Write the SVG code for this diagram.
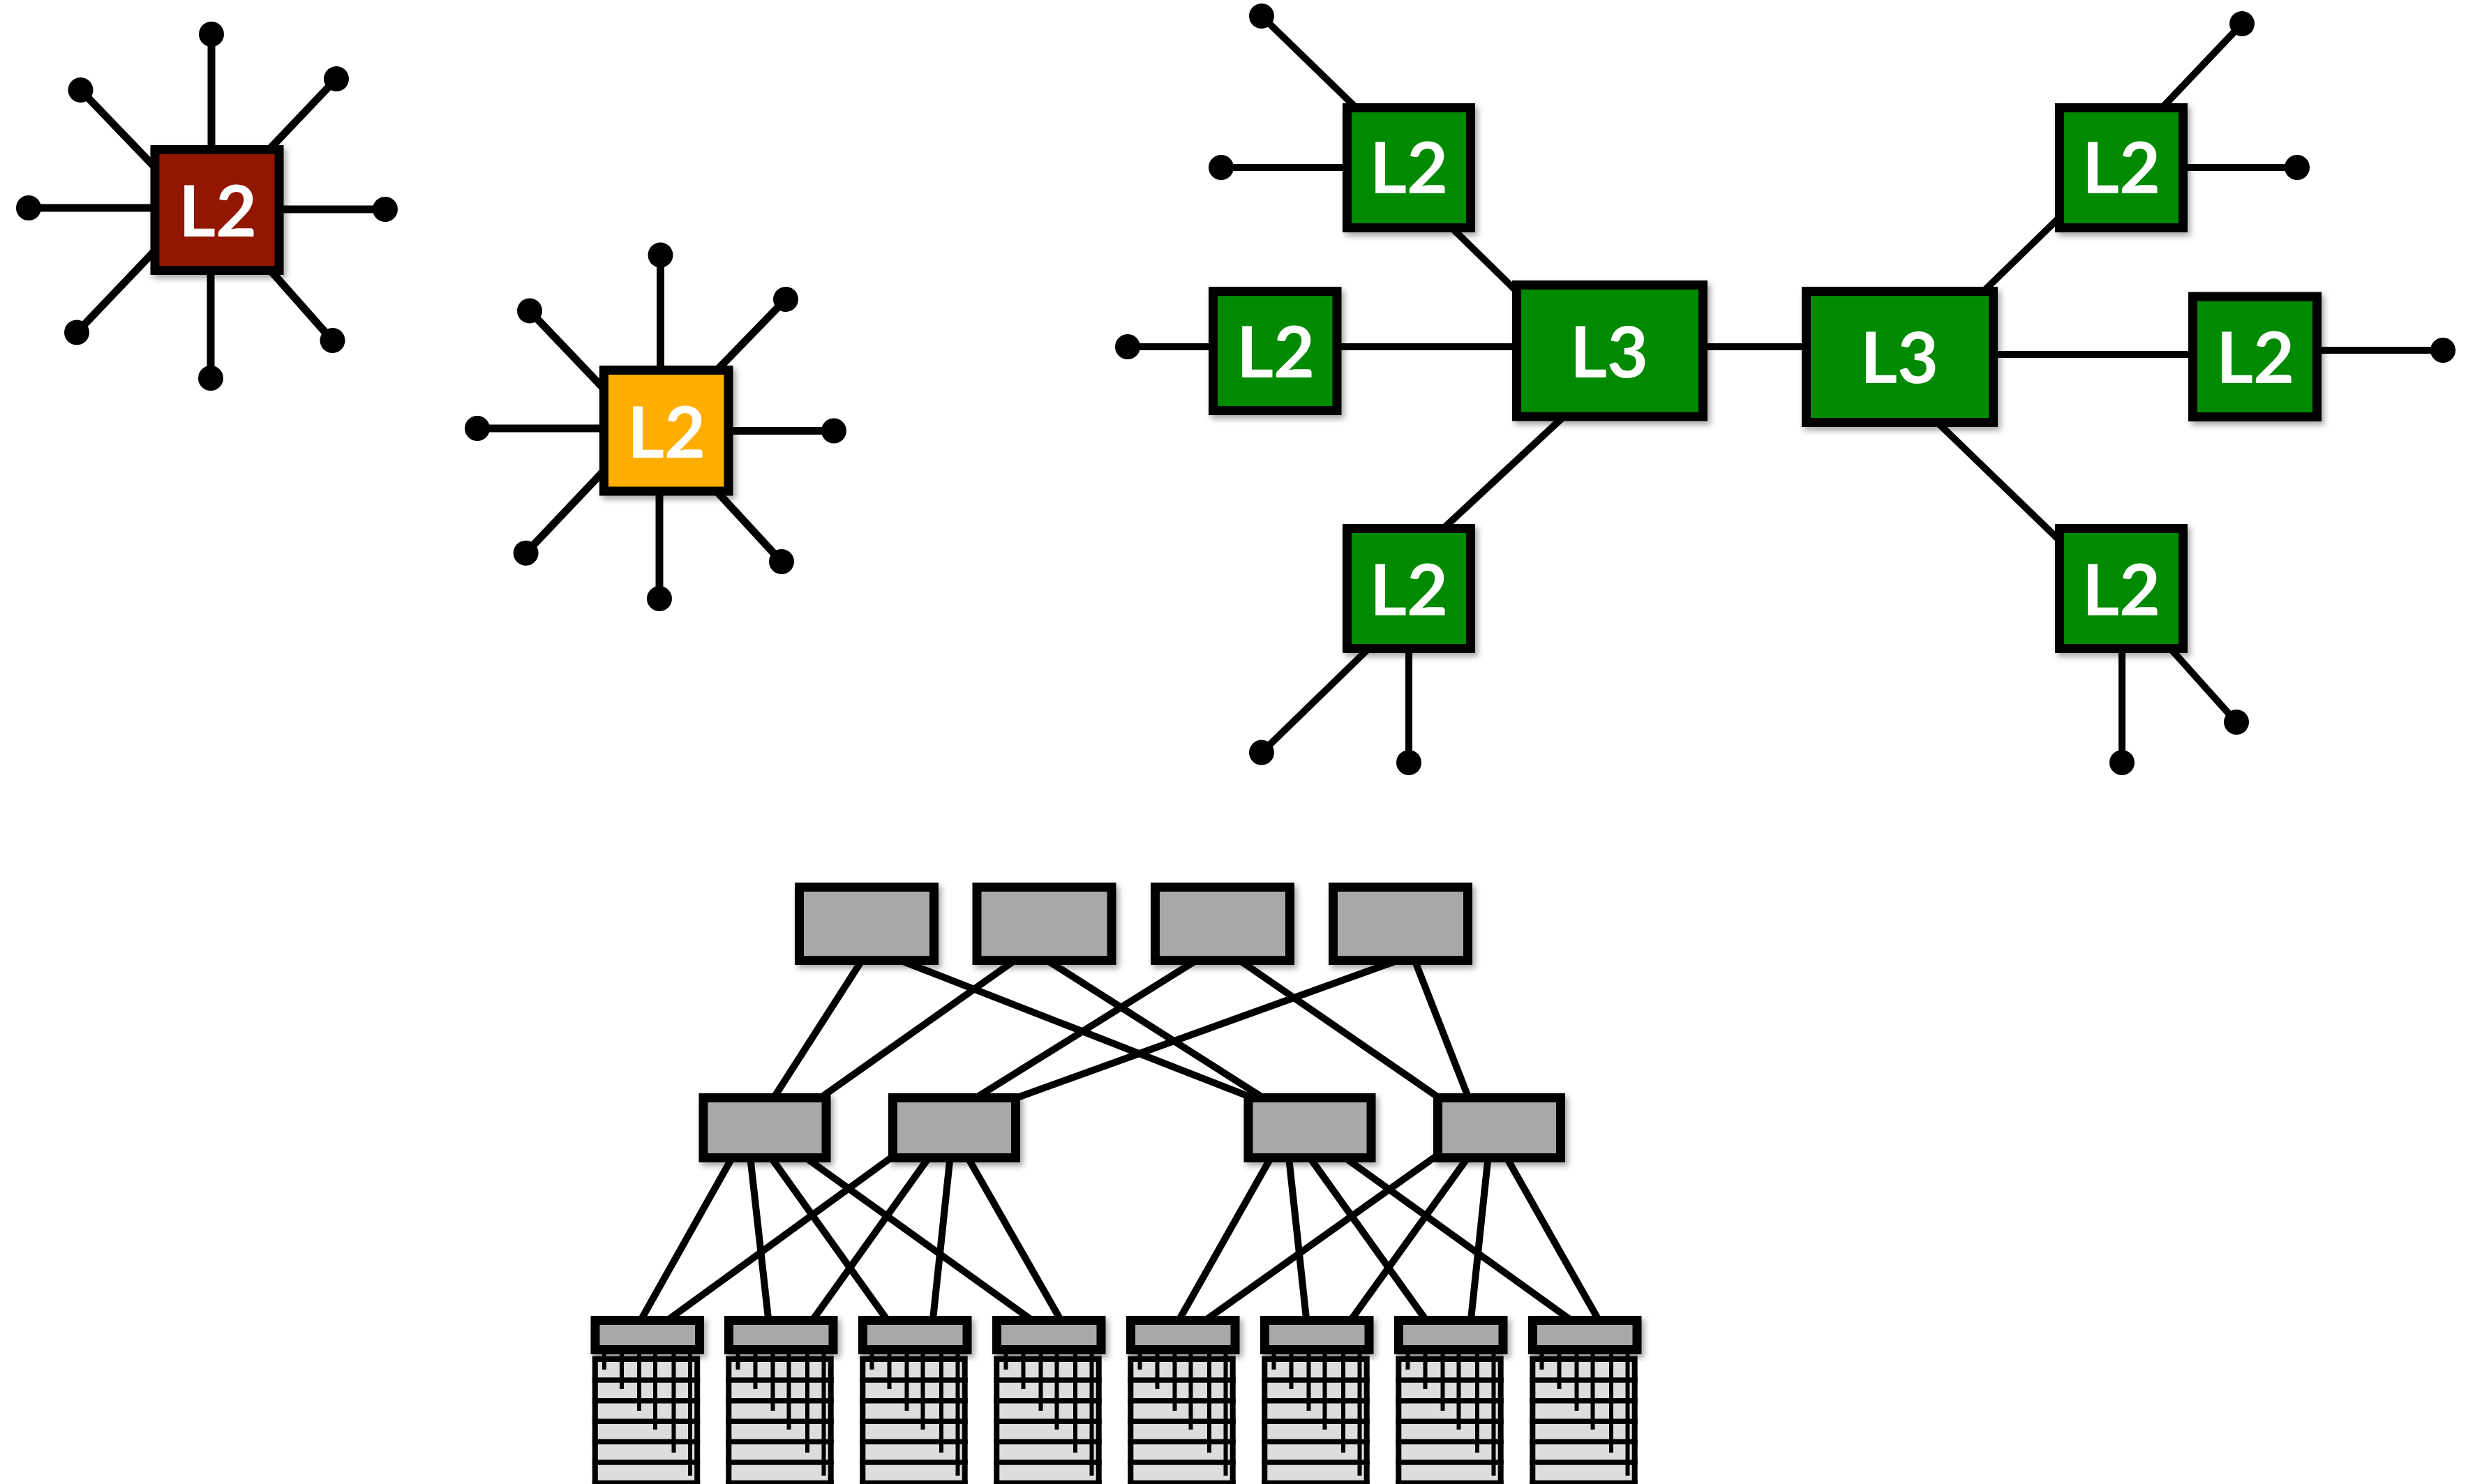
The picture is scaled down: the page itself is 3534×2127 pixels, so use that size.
<svg xmlns="http://www.w3.org/2000/svg" xmlns:xlink="http://www.w3.org/1999/xlink" width="3534" height="2127" viewBox="0 0 3534 2127">
<style>
.lnk{stroke:#000;stroke-width:11;fill:none}
.lg{stroke:#000;stroke-width:10;fill:none}
.ft{stroke:#000;stroke-width:10;fill:none}
.box{stroke:#000;stroke-width:13;filter:url(#sh)}
.red{fill:#921200}
.org{fill:#ffae00}
.grn{fill:#058a03}
.gry{fill:#a6a9a8}
.lbl{font-family:Lato,"Open Sans","DejaVu Sans",sans-serif;font-weight:700;font-size:102px;fill:#fff;text-anchor:middle}
.cab{stroke:#000;stroke-width:6}
</style>
<defs>
<filter id="sh" x="-20%" y="-20%" width="150%" height="160%">
<feDropShadow dx="4" dy="5" stdDeviation="4" flood-color="#000" flood-opacity="0.35"/>
</filter>
<marker id="dot" markerUnits="userSpaceOnUse" viewBox="-20 -20 40 40" markerWidth="40" markerHeight="40" refX="0" refY="0" orient="auto">
<circle r="18" fill="#000"/>
</marker>
<g id="torrack">
<rect x="2.3" y="1940" width="154.4" height="6" fill="#c9cacc"/>
<rect x="6.3" y="1948" width="146.4" height="200" fill="#dcdddf" stroke="#000" stroke-width="8"/>
<rect x="2.3" y="1974.3" width="154.4" height="7.5" fill="#000"/>
<rect x="2.3" y="2004" width="154.4" height="7.5" fill="#000"/>
<rect x="2.3" y="2033.5" width="154.4" height="7.5" fill="#000"/>
<rect x="2.3" y="2062.7" width="154.4" height="7.5" fill="#000"/>
<rect x="2.3" y="2092.2" width="154.4" height="7.5" fill="#000"/>
<rect x="2.3" y="2121.7" width="154.4" height="7.5" fill="#000"/>
<line class="cab" x1="19.5" y1="1940" x2="19.5" y2="1963"/>
<line class="cab" x1="44.5" y1="1940" x2="44.5" y2="1991"/>
<line class="cab" x1="69.5" y1="1940" x2="69.5" y2="2022"/>
<line class="cab" x1="92.5" y1="1940" x2="92.5" y2="2049"/>
<line class="cab" x1="119" y1="1940" x2="119" y2="2082"/>
<line class="cab" x1="142.5" y1="1940" x2="142.5" y2="2115"/>
<rect class="box gry" x="6.5" y="1892.5" width="149.5" height="42"/>
</g>
</defs>
<rect width="3534" height="2127" fill="#fff"/>

<g id="connectors">
<!-- red star spokes -->
<line class="lnk" marker-start="url(#dot)" x1="303" y1="49" x2="303" y2="230"/>
<line class="lnk" marker-start="url(#dot)" x1="115.5" y1="129" x2="225" y2="243"/>
<line class="lnk" marker-start="url(#dot)" x1="482" y1="113" x2="385" y2="215"/>
<line class="lnk" marker-start="url(#dot)" x1="41" y1="298" x2="230" y2="298"/>
<line class="lnk" marker-start="url(#dot)" x1="552" y1="300" x2="392" y2="300"/>
<line class="lnk" marker-start="url(#dot)" x1="110" y1="476.5" x2="225" y2="356"/>
<line class="lnk" marker-start="url(#dot)" x1="302" y1="542" x2="302" y2="380"/>
<line class="lnk" marker-start="url(#dot)" x1="476.5" y1="488" x2="388" y2="388"/>
<!-- orange star spokes -->
<line class="lnk" marker-start="url(#dot)" x1="946.5" y1="365.6" x2="946.5" y2="545"/>
<line class="lnk" marker-start="url(#dot)" x1="759" y1="445.5" x2="868" y2="560"/>
<line class="lnk" marker-start="url(#dot)" x1="1126" y1="429" x2="1026" y2="532"/>
<line class="lnk" marker-start="url(#dot)" x1="684" y1="614" x2="875" y2="614"/>
<line class="lnk" marker-start="url(#dot)" x1="1195" y1="617.5" x2="1035" y2="617.5"/>
<line class="lnk" marker-start="url(#dot)" x1="753.6" y1="792.7" x2="868" y2="672"/>
<line class="lnk" marker-start="url(#dot)" x1="945" y1="858" x2="945" y2="695"/>
<line class="lnk" marker-start="url(#dot)" x1="1120" y1="805" x2="1026" y2="703"/>
<!-- green network -->
<line class="lg" marker-start="url(#dot)" x1="1808" y1="23" x2="1945" y2="156"/>
<line class="lg" marker-start="url(#dot)" x1="1750" y1="240" x2="1935" y2="240"/>
<line class="lg" x1="2080" y1="326" x2="2175" y2="419"/>
<line class="lg" marker-start="url(#dot)" x1="1616" y1="497" x2="1745" y2="497"/>
<line class="lg" x1="1910" y1="497" x2="2180" y2="497"/>
<line class="lg" x1="2241" y1="597" x2="2069" y2="757"/>
<line class="lg" marker-start="url(#dot)" x1="1808" y1="1078.6" x2="1962" y2="929"/>
<line class="lg" marker-start="url(#dot)" x1="2019" y1="1093" x2="2019" y2="925"/>
<line class="lg" x1="2435" y1="497" x2="2595" y2="497"/>
<line class="lg" x1="2842" y1="418" x2="2952" y2="311"/>
<line class="lg" marker-start="url(#dot)" x1="3213" y1="34" x2="3098" y2="155"/>
<line class="lg" marker-start="url(#dot)" x1="3292" y1="240" x2="3125" y2="240"/>
<line class="lg" x1="2850" y1="508" x2="3150" y2="508"/>
<line class="lg" marker-start="url(#dot)" x1="3501" y1="502" x2="3315" y2="502"/>
<line class="lg" x1="2776" y1="605" x2="2952" y2="775"/>
<line class="lg" marker-start="url(#dot)" x1="3041" y1="1093" x2="3041" y2="925"/>
<line class="lg" marker-start="url(#dot)" x1="3205" y1="1035" x2="3110" y2="929"/>
<!-- fat tree: core to aggregation -->
<line class="ft" x1="1236.1" y1="1375" x2="1107.9" y2="1575"/>
<line class="ft" x1="1286.5" y1="1375" x2="1801.4" y2="1576"/>
<line class="ft" x1="1456.3" y1="1375" x2="1173.7" y2="1575"/>
<line class="ft" x1="1498.4" y1="1375" x2="1812.6" y2="1575"/>
<line class="ft" x1="1716.8" y1="1375" x2="1396.2" y2="1575"/>
<line class="ft" x1="1774.4" y1="1375" x2="2066" y2="1576"/>
<line class="ft" x1="2007.2" y1="1375" x2="1447.1" y2="1577"/>
<line class="ft" x1="2026.9" y1="1375" x2="2105.1" y2="1575"/>
<!-- fat tree: aggregation to ToR -->
<line class="ft" x1="1051.6" y1="1655" x2="917.3" y2="1894"/>
<line class="ft" x1="1074.8" y1="1655" x2="1101.5" y2="1894"/>
<line class="ft" x1="1102.1" y1="1655" x2="1273" y2="1894"/>
<line class="ft" x1="1148.7" y1="1655" x2="1481.4" y2="1894"/>
<line class="ft" x1="1287" y1="1652" x2="954.3" y2="1894"/>
<line class="ft" x1="1333.9" y1="1655" x2="1163.1" y2="1894"/>
<line class="ft" x1="1362" y1="1655" x2="1336.7" y2="1894"/>
<line class="ft" x1="1384.7" y1="1655" x2="1521.2" y2="1894"/>
<line class="ft" x1="1823.6" y1="1655" x2="1688.5" y2="1894"/>
<line class="ft" x1="1846.6" y1="1655" x2="1872.5" y2="1894"/>
<line class="ft" x1="1874.1" y1="1655" x2="2045" y2="1894"/>
<line class="ft" x1="1921.5" y1="1655" x2="2253.9" y2="1894"/>
<line class="ft" x1="2065.2" y1="1652" x2="1725" y2="1894"/>
<line class="ft" x1="2106.4" y1="1655" x2="1934.5" y2="1894"/>
<line class="ft" x1="2133" y1="1655" x2="2107.7" y2="1894"/>
<line class="ft" x1="2156.8" y1="1655" x2="2292.1" y2="1894"/>
</g>

<g id="red-l2"><rect class="box red" x="222" y="214.5" width="178" height="173"/><text class="lbl" x="312" y="338.5">L2</text></g>
<g id="orange-l2"><rect class="box org" x="865.5" y="530.5" width="178.5" height="173.5"/><text class="lbl" x="955" y="656">L2</text></g>

<g id="g-l2-tl"><rect class="box grn" x="1930.5" y="154.5" width="177" height="172"/><text class="lbl" x="2019" y="277">L2</text></g>
<g id="g-l2-ml"><rect class="box grn" x="1738.5" y="417.5" width="177.5" height="171"/><text class="lbl" x="1828" y="540.5">L2</text></g>
<g id="g-l2-bl"><rect class="box grn" x="1930.5" y="757.5" width="177" height="172"/><text class="lbl" x="2019" y="882">L2</text></g>
<g id="g-l3-l"><rect class="box grn" x="2173.5" y="408.5" width="267" height="188.5"/><text class="lbl" x="2306" y="541">L3</text></g>
<g id="g-l3-r"><rect class="box grn" x="2588.5" y="417.5" width="268" height="188"/><text class="lbl" x="2722" y="549">L3</text></g>
<g id="g-l2-tr"><rect class="box grn" x="2951.5" y="154.5" width="177" height="172"/><text class="lbl" x="3040" y="277">L2</text></g>
<g id="g-l2-mr"><rect class="box grn" x="3142.5" y="425" width="178" height="172.5"/><text class="lbl" x="3232" y="549">L2</text></g>
<g id="g-l2-br"><rect class="box grn" x="2951.5" y="757.5" width="177" height="172"/><text class="lbl" x="3040" y="882">L2</text></g>

<g id="core1"><rect class="box gry" x="1145.5" y="1271.5" width="193" height="105"/></g>
<g id="core2"><rect class="box gry" x="1400" y="1271.5" width="193" height="105"/></g>
<g id="core3"><rect class="box gry" x="1655.5" y="1271.5" width="193" height="105"/></g>
<g id="core4"><rect class="box gry" x="1910.5" y="1271.5" width="193" height="105"/></g>

<g id="agg1"><rect class="box gry" x="1008" y="1573.5" width="176" height="86"/></g>
<g id="agg2"><rect class="box gry" x="1279.5" y="1573.5" width="176" height="86"/></g>
<g id="agg3"><rect class="box gry" x="1789" y="1573.5" width="176" height="86"/></g>
<g id="agg4"><rect class="box gry" x="2060.5" y="1573.5" width="176" height="86"/></g>

<g id="tor1"><use xlink:href="#torrack" x="846.5"/></g>
<g id="tor2"><use xlink:href="#torrack" x="1038"/></g>
<g id="tor3"><use xlink:href="#torrack" x="1230"/></g>
<g id="tor4"><use xlink:href="#torrack" x="1422"/></g>
<g id="tor5"><use xlink:href="#torrack" x="1614"/></g>
<g id="tor6"><use xlink:href="#torrack" x="1806"/></g>
<g id="tor7"><use xlink:href="#torrack" x="1998"/></g>
<g id="tor8"><use xlink:href="#torrack" x="2190"/></g>
</svg>
